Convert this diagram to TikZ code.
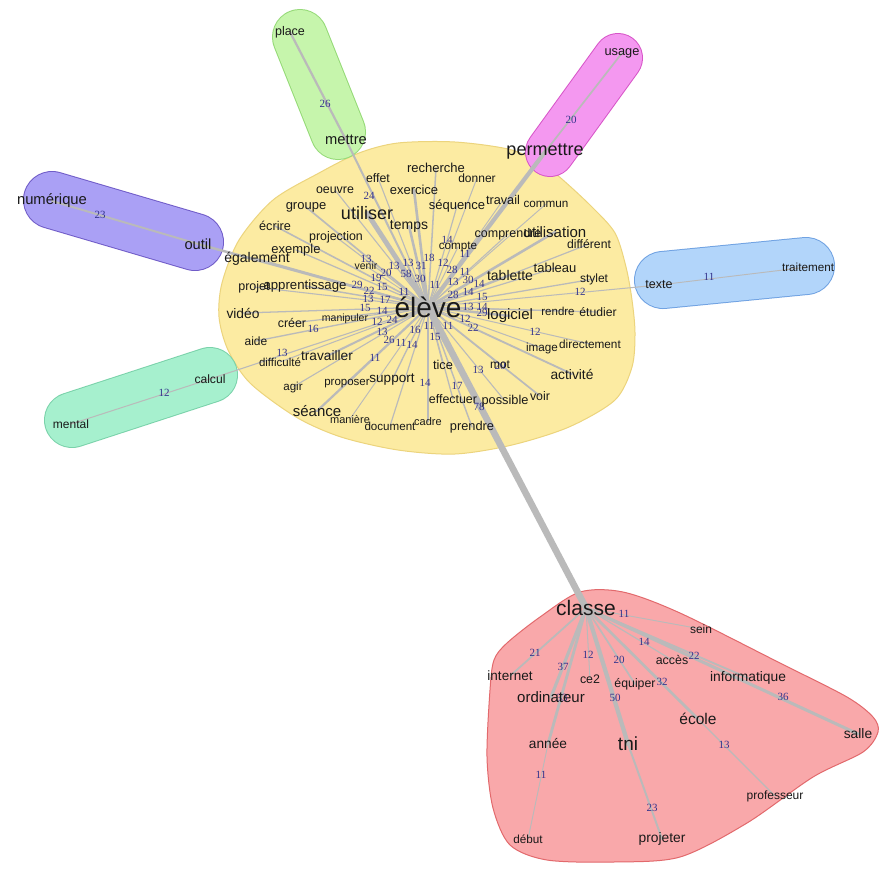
\documentclass[tikz,border=0pt]{standalone}
\usepackage{fontspec}
\setmainfont{Liberation Sans}
\newfontfamily\numfont{Liberation Serif}
\definecolor{yfill}{RGB}{252,235,162}
\definecolor{yline}{RGB}{236,212,125}
\definecolor{rfill}{RGB}{249,168,170}
\definecolor{rline}{RGB}{226,105,108}
\definecolor{gfill}{RGB}{198,245,172}
\definecolor{gline}{RGB}{150,218,120}
\definecolor{pfill}{RGB}{244,152,240}
\definecolor{pline}{RGB}{215,85,200}
\definecolor{vfill}{RGB}{170,160,245}
\definecolor{vline}{RGB}{112,92,200}
\definecolor{bfill}{RGB}{178,213,250}
\definecolor{bline}{RGB}{112,162,226}
\definecolor{tfill}{RGB}{166,240,206}
\definecolor{tline}{RGB}{122,210,170}
\definecolor{edgec}{RGB}{186,186,186}
\definecolor{lblc}{RGB}{52,52,140}
\definecolor{wordc}{RGB}{25,25,25}
\pgfdeclarelayer{blobs}
\pgfdeclarelayer{edges}
\pgfdeclarelayer{labels}
\pgfsetlayers{blobs,edges,labels,main}
\begin{document}
\begin{tikzpicture}[x=1pt,y=-1pt,
  word/.style={text=wordc, inner sep=0pt, font=\fontsize{#1}{#1}\selectfont},
  lbl/.style={text=lblc, inner sep=0pt, font=\numfont\fontsize{11}{11}\selectfont},
  edge/.style={draw=edgec, line cap=round},
  blob/.style={line width=1pt}]
\useasboundingbox (0,0) rectangle (882,868);
\begin{pgfonlayer}{blobs}
\fill[white] (0,0) rectangle (882,868);
% yellow cluster
\draw[blob, fill=yfill, draw=yline] plot[smooth cycle] coordinates {
 (359,153) (319,173) (273,200) (239,240) (222,283) (219,317) (228,350) (250,383)
 (296,417) (341,437) (398,450) (455,454) (512,445) (569,427) (615,400) (632,367)
 (635,333) (632,300) (626,267) (615,233) (592,207) (563,180) (546,167) (512,150)
 (455,142) (398,143)};
% red cluster
\draw[blob, fill=rfill, draw=rline] plot[smooth cycle] coordinates {
 (580,592) (623,592) (680,613) (780,663) (847,697) (873,717) (878,732) (863,752)
 (813,777) (747,823) (680,857) (613,862) (547,860) (510,845) (493,808) (487,757)
 (490,690) (494,660) (507,643) (540,617)};
% capsules
\draw[line width=56pt, gline, line cap=round] (300,37) -- (338,132);
\draw[line width=54pt, gfill, line cap=round] (300,37) -- (338,132);
\draw[line width=50pt, pline, line cap=round] (618,58) -- (550,152);
\draw[line width=48pt, pfill, line cap=round] (618,58) -- (550,152);
\draw[line width=58pt, vline, line cap=round] (52,200) -- (195,242);
\draw[line width=56pt, vfill, line cap=round] (52,200) -- (195,242);
\draw[line width=58pt, bline, line cap=round] (663,280) -- (806,266);
\draw[line width=56pt, bfill, line cap=round] (663,280) -- (806,266);
\draw[line width=56pt, tline, line cap=round] (72,420) -- (210,375);
\draw[line width=54pt, tfill, line cap=round] (72,420) -- (210,375);
\end{pgfonlayer}
% words
\foreach \n/\x/\y/\s/\t in {
 mettre/346/140/14.7/mettre, effet/378/178/12.3/effet, oeuvre/335/190/12.4/oeuvre,
 exercice/414/190/13/exercice, groupe/306/207/13/groupe, utiliser/367/213/18/utiliser,
 temps/409/226/14/temps, recherche/436/168/13/recherche, donner/477/178/12/donner,
 sequence/457/206/13/séquence, travail/503/200/12.7/travail, commun/546/204/11.7/commun,
 ecrire/275/226/12.7/écrire, projection/336/237/12.4/projection,
 comprendre/508/234/12.5/comprendre, utilisation/555/232/15/utilisation,
 different/589/244/12.2/différent, compte/458/247/11.7/compte, exemple/296/250/13/exemple,
 egalement/257/259/14/également, venir/366/266/10.5/venir, tablette/510/275/14/tablette,
 tableau/555/268/13/tableau, stylet/594/279/12/stylet, projet/254/287/12.5/projet,
 apprentissage/305/286/13.2/apprentissage, video/243/313/13.8/vidéo, creer/292/323/12.4/créer,
 manipuler/345/319/10.5/manipuler, aide/256/341/12/aide, difficulte/280/362/11.5/difficulté,
 travailler/327/356/13.7/travailler, agir/293/387/11.6/agir, proposer/347/384/11.5/proposer,
 support/392/380/13.5/support, seance/317/411/15/séance, maniere/350/419/11/manière,
 document/390/426/11.6/document, cadre/428/422/11/cadre, prendre/472/427/12.8/prendre,
 effectuer/453/399/12.4/effectuer, possible/505/401/12.8/possible, voir/540/396/12.4/voir,
 tice/443/365/12.8/tice, mot/500/365/12/mot, activite/572/374/13.8/activité,
 image/542/348/11.7/image, directement/590/344/11.8/directement, rendre/558/311/11.5/rendre,
 etudier/598/312/12.2/étudier, logiciel/510/316/15/logiciel,
 place/290/32/12.5/place, usage/622/53/12.8/usage, permettre/545/152/18/permettre,
 numerique/52/201/14.8/numérique, outil/198/244/14.7/outil, texte/659/285/12.5/texte,
 traitement/808/267/11.7/traitement, calcul/210/379/12.1/calcul, mental/71/424/12/mental,
 sein/701/629/12/sein, acces/672/660/12.4/accès, internet/510/676/13.5/internet,
 ce2/590/679/12.4/ce2, equiper/635/684/12.3/équiper, informatique/748/678/13.8/informatique,
 ordinateur/551/697/15/ordinateur, ecole/698/719/15.5/école, salle/858/734/13.8/salle,
 annee/548/744/13.7/année, tni/628/744/19/tni, professeur/775/796/12/professeur,
 debut/528/839/11.7/début, projeter/662/839/13.8/projeter,
 classe/586/608/21/classe, eleve/428/307/28/élève}
 \node[word=\s] (\n) at (\x,\y) {\t};
% connectors
\begin{pgfonlayer}{edges}
\foreach \a/\b/\w in {
 eleve/classe/78, eleve/permettre/50, eleve/utiliser/58, eleve/mettre/24, eleve/effet/13,
 eleve/oeuvre/13, eleve/exercice/31, eleve/groupe/20, eleve/temps/30, eleve/recherche/18,
 eleve/donner/12, eleve/sequence/14, eleve/travail/11, eleve/commun/11, eleve/compte/11,
 eleve/comprendre/13, eleve/utilisation/30, eleve/different/14, eleve/tablette/28,
 eleve/tableau/14, eleve/stylet/15, eleve/texte/12, eleve/rendre/13, eleve/etudier/14,
 eleve/logiciel/29, eleve/image/12, eleve/activite/22, eleve/directement/12, eleve/mot/11,
 eleve/voir/20, eleve/possible/13, eleve/tice/11, eleve/effectuer/15, eleve/prendre/17,
 eleve/cadre/14, eleve/document/14, eleve/support/16, eleve/maniere/11, eleve/proposer/11,
 eleve/seance/26, eleve/agir/13, eleve/travailler/24, eleve/difficulte/12, eleve/calcul/13,
 eleve/aide/16, eleve/creer/14, eleve/manipuler/12, eleve/video/15, eleve/projet/13,
 eleve/apprentissage/17, eleve/egalement/22, eleve/outil/29, eleve/exemple/15,
 eleve/ecrire/19, eleve/projection/13, eleve/venir/11,
 mettre/place/26, permettre/usage/20, outil/numerique/23, texte/traitement/11,
 calcul/mental/12,
 classe/sein/11, classe/acces/14, classe/informatique/22, classe/salle/36,
 classe/internet/21, classe/ordinateur/37, classe/annee/33, classe/ce2/12,
 classe/equiper/20, classe/tni/50, classe/ecole/32, ecole/professeur/13,
 tni/projeter/23, annee/debut/11}
 \draw[edge, line width=\w*0.085] (\a.center) -- (\b.center);
\end{pgfonlayer}
% edge weights
\begin{pgfonlayer}{labels}
\foreach \x/\y/\t [count=\i] in {
 325/104/26, 571/120/20, 100/215/23, 709/277/11, 164/393/12, 580/292/12, 282/353/13,
 369/196/24, 366/259/13, 386/273/20, 376/278/19, 394/266/13, 408/263/13, 421/266/31,
 429/258/18, 406/274/58, 420/279/30, 443/263/12, 452/270/28, 465/272/11, 447/240/14,
 465/254/11, 435/285/11, 453/282/13, 468/280/30, 479/284/14, 357/285/29, 369/291/22,
 382/287/15, 404/292/11, 453/295/28, 468/292/14, 482/297/15, 368/299/13, 385/300/17,
 365/308/15, 382/311/14, 468/307/13, 482/307/14, 482/313/29, 377/322/12, 392/320/24,
 465/319/12, 473/328/22, 429/326/11, 448/326/11, 382/332/13, 415/330/16, 435/337/15,
 389/340/26, 401/343/11, 412/345/14, 313/329/16, 375/358/11, 425/383/14, 457/386/17,
 478/370/13, 500/366/20, 535/332/12, 479/407/78,
 624/614/11, 644/642/14, 535/653/21, 563/667/37, 588/655/12, 619/660/20, 694/656/22,
 662/682/32, 562/698/33, 615/698/50, 783/697/36, 724/745/13, 541/775/11, 652/808/23}
 \node[lbl] (w\i) at (\x,\y) {\t};
\end{pgfonlayer}
\end{tikzpicture}
\end{document}
